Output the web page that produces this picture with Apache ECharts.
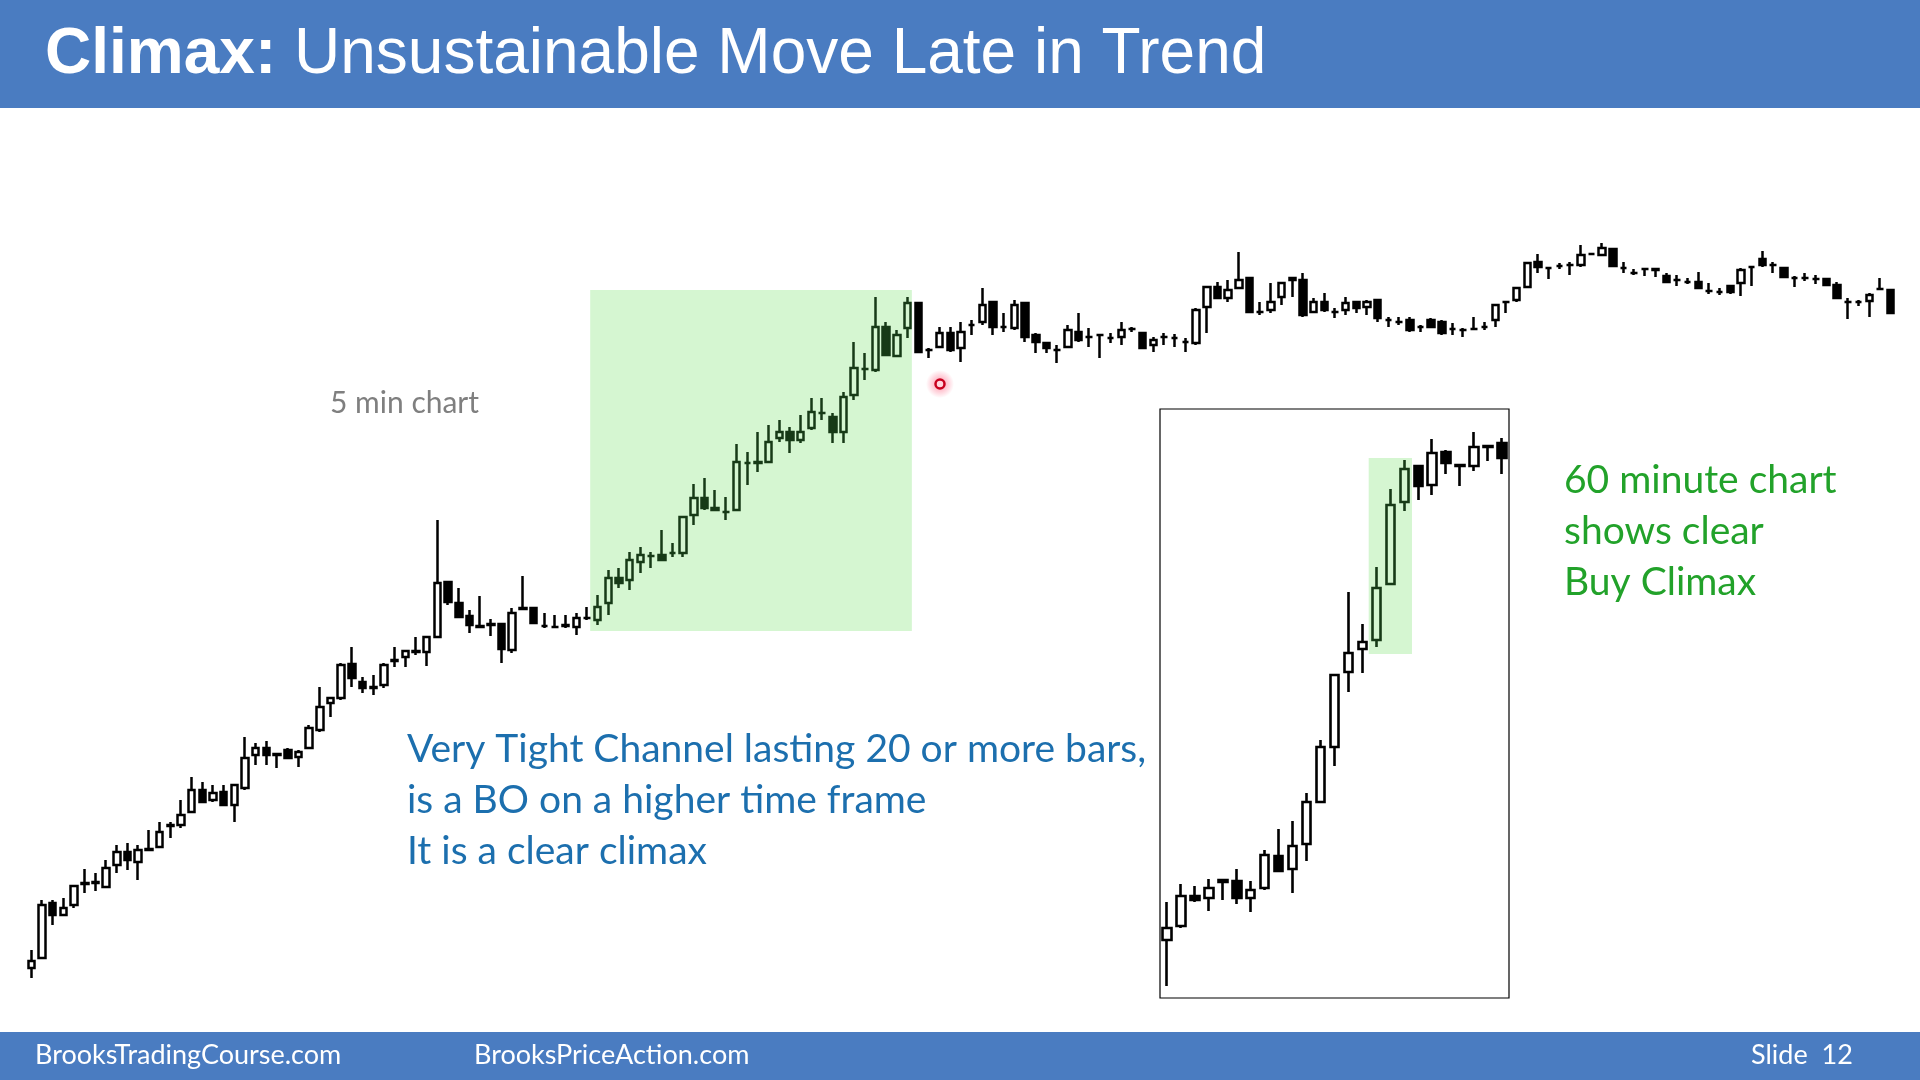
<!DOCTYPE html>
<html>
<head>
<meta charset="utf-8">
<title>Climax: Unsustainable Move Late in Trend</title>
<script src="https://cdn.jsdelivr.net/npm/echarts@6/dist/echarts.min.js"></script>
<style>
  html, body { margin: 0; padding: 0; background: #fff; }
  #chart { width: 1920px; height: 1080px; }
</style>
</head>
<body>
<div id="chart"></div>
<script>
// 5 min bars, [open, close, low, high] (price units)
const bars5 = [
  [32, 39, 22, 50], [42, 95, 42, 100], [97, 85, 75, 100], [85, 92, 85, 102], [95, 114, 92, 115],
  [116, 117, 107, 131], [117, 118, 109, 127], [113, 132, 112, 140], [135, 148, 127, 155], [148, 140, 130, 157],
  [138, 150, 120, 155], [150, 151, 150, 170], [153, 168, 153, 178], [174, 175, 162, 178], [175, 185, 172, 200],
  [188, 210, 188, 223], [210, 198, 198, 218], [200, 207, 198, 215], [208, 195, 195, 215], [195, 215, 178, 215],
  [212, 242, 210, 263], [245, 252, 235, 257], [252, 245, 235, 259], [245, 246, 232, 247], [250, 242, 242, 252],
  [243, 248, 233, 250], [252, 272, 252, 275], [270, 293, 268, 313], [297, 302, 283, 302], [302, 335, 300, 337],
  [336, 322, 313, 353], [318, 312, 307, 323], [312, 313, 305, 325], [315, 335, 312, 337], [339, 340, 333, 353],
  [343, 349, 333, 349], [348, 349, 345, 363], [348, 363, 334, 364], [363, 417, 363, 480], [418, 398, 395, 418],
  [397, 383, 383, 412], [384, 375, 367, 390], [374, 373, 373, 404], [375, 376, 364, 381], [376, 351, 337, 376],
  [350, 387, 347, 392], [391, 392, 391, 424], [392, 377, 377, 392], [374, 374, 372, 387], [373, 373, 372, 385],
  [374, 375, 372, 385], [373, 382, 365, 387], [382, 382, 380, 393], [380, 393, 375, 405], [397, 422, 385, 430],
  [422, 417, 412, 432], [420, 440, 410, 448], [438, 445, 427, 453], [444, 444, 432, 448], [445, 440, 440, 470],
  [447, 447, 443, 457], [447, 483, 443, 483], [485, 502, 475, 516], [502, 492, 490, 522], [492, 490, 490, 510],
  [488, 488, 480, 503], [490, 538, 490, 556], [537, 537, 515, 548], [537, 538, 528, 568], [538, 558, 538, 575],
  [562, 568, 558, 580], [568, 560, 547, 573], [560, 568, 557, 585], [572, 588, 570, 602], [587, 587, 580, 602],
  [583, 568, 557, 587], [568, 603, 557, 608], [605, 632, 600, 658], [631, 631, 620, 647], [630, 673, 628, 703],
  [673, 645, 644, 678], [644, 665, 644, 670], [672, 697, 662, 703], [697, 648, 648, 697], [650, 650, 642, 652],
  [653, 667, 652, 673], [667, 650, 648, 673], [652, 668, 638, 678], [675, 675, 665, 680], [678, 695, 675, 712],
  [698, 673, 665, 698], [673, 673, 668, 687], [672, 695, 670, 700], [697, 663, 658, 697], [665, 658, 647, 667],
  [657, 652, 647, 658], [650, 650, 637, 655], [653, 670, 653, 675], [668, 660, 658, 687], [663, 663, 653, 672],
  [665, 665, 642, 665], [662, 662, 657, 667], [663, 670, 655, 678], [671, 671, 668, 673], [667, 652, 652, 668],
  [655, 660, 648, 663], [663, 663, 655, 667], [662, 662, 653, 666], [658, 658, 648, 662], [657, 690, 655, 692],
  [693, 713, 667, 713], [713, 702, 702, 718], [702, 710, 698, 720], [712, 720, 712, 748], [722, 688, 688, 722],
  [688, 688, 685, 698], [690, 698, 687, 717], [703, 717, 695, 717], [720, 722, 703, 722], [720, 685, 683, 727],
  [688, 698, 688, 702], [698, 690, 688, 707], [688, 688, 682, 692], [690, 697, 685, 703], [698, 692, 687, 698],
  [693, 698, 685, 700], [700, 682, 678, 700], [680, 680, 673, 683], [678, 678, 675, 683], [680, 670, 668, 683],
  [673, 673, 668, 675], [680, 673, 672, 682], [678, 667, 665, 680], [671, 671, 665, 677], [670, 670, 663, 672],
  [671, 671, 670, 683], [673, 673, 670, 678], [680, 695, 673, 695], [698, 698, 687, 698], [700, 712, 698, 713],
  [713, 737, 712, 737], [738, 733, 727, 746], [732, 732, 721, 732], [734, 734, 731, 737], [735, 735, 725, 738],
  [735, 745, 733, 755], [746, 746, 745, 746], [745, 752, 744, 757], [751, 734, 733, 751], [732, 732, 727, 738],
  [727, 727, 725, 731], [731, 731, 724, 731], [731, 730, 723, 731], [724, 718, 717, 727], [720, 720, 714, 725],
  [718, 718, 716, 722], [718, 712, 711, 728], [709, 709, 706, 717], [708, 708, 705, 712], [714, 708, 706, 714],
  [717, 730, 704, 732], [733, 733, 714, 734], [741, 735, 733, 749], [735, 735, 727, 738], [732, 723, 723, 733],
  [722, 722, 713, 724], [722, 722, 719, 727], [721, 721, 716, 725], [721, 715, 714, 722], [715, 702, 701, 718],
  [698, 698, 681, 702], [698, 698, 694, 700], [699, 705, 683, 707], [711, 711, 710, 722], [710, 687, 687, 710]
];

// 60 minute bars, [open, close, low, high]
const bars60 = [
  [58, 70, 12, 96], [72, 102, 70, 114], [102, 98, 96, 112], [100, 110, 87, 119], [116, 118, 98, 119],
  [117, 100, 94, 129], [100, 108, 86, 117], [110, 143, 108, 148], [142, 127, 126, 169], [129, 152, 105, 177],
  [154, 196, 137, 205], [196, 251, 196, 258], [251, 323, 232, 323], [326, 345, 306, 406], [349, 356, 325, 374],
  [358, 410, 351, 431], [414, 493, 413, 509], [496, 529, 487, 538], [532, 512, 498, 532], [513, 545, 503, 559],
  [546, 535, 524, 548], [533, 532, 512, 533], [532, 551, 527, 566], [551, 552, 537, 552], [555, 540, 524, 560]
];

// climax zones: [first bar, last bar] and [low, high] price
const climax5Bars = [53, 82];
const climax5Range = [369, 710];
const climax60Bars = [15, 17];
const climax60Range = [344, 540];

const cats5 = bars5.map((_, i) => String(i + 1));
const cats60 = bars60.map((_, i) => String(i + 1));

const BLACK = '#000';
const DARK_GREEN = '#173a17';
const ZONE_GREEN = '#d5f6d1';
const SLIDE_BLUE = '#4a7cc1';

// split bars into the ones inside / outside a zone ('-' leaves a gap)
function pick(bars, zone, inside) {
  return bars.map((v, i) => ((i >= zone[0] && i <= zone[1]) === inside ? v : '-'));
}

function candleSeries(name, xIdx, yIdx, data, color, width, lw) {
  return {
    name, type: 'candlestick', xAxisIndex: xIdx, yAxisIndex: yIdx, z: 3,
    barWidth: width,
    itemStyle: {
      color: 'rgba(0,0,0,0)', color0: color,
      borderColor: color, borderColor0: color, borderColorDoji: color,
      borderWidth: lw
    },
    data
  };
}

const chart = echarts.init(document.getElementById('chart'), null, { renderer: 'canvas' });

const option = {
  backgroundColor: '#fff',
  animation: false,
  grid: [
    { left: 26, top: 200, width: 1870, height: 800 },
    { left: 1160, top: 409, width: 349, height: 589, show: true, borderColor: '#000', borderWidth: 1.2, backgroundColor: 'transparent' }
  ],
  xAxis: [
    { type: 'category', data: cats5, gridIndex: 0, boundaryGap: true, show: false },
    { type: 'value', gridIndex: 0, min: -0.5, max: bars5.length - 0.5, show: false },
    { type: 'category', data: cats60, gridIndex: 1, boundaryGap: true, show: false },
    { type: 'value', gridIndex: 1, min: -0.5, max: bars60.length - 0.5, show: false }
  ],
  yAxis: [
    { type: 'value', gridIndex: 0, min: 0, max: 800, show: false, splitLine: { show: false } },
    { type: 'value', gridIndex: 1, min: 0, max: 589, show: false, splitLine: { show: false } }
  ],
  series: [
    {
      name: 'zone5', type: 'line', xAxisIndex: 1, yAxisIndex: 0, data: [], silent: true, z: 1,
      markArea: {
        silent: true,
        itemStyle: { color: ZONE_GREEN },
        data: [[
          { xAxis: climax5Bars[0] - 0.7, yAxis: climax5Range[0] },
          { xAxis: climax5Bars[1] + 0.4, yAxis: climax5Range[1] }
        ]]
      }
    },
    candleSeries('5 min', 0, 0, pick(bars5, climax5Bars, false), BLACK, 7, 2.5),
    candleSeries('5 min climax', 0, 0, pick(bars5, climax5Bars, true), DARK_GREEN, 7, 2.5),
    {
      name: 'zone60', type: 'line', xAxisIndex: 3, yAxisIndex: 1, data: [], silent: true, z: 1,
      markArea: {
        silent: true,
        itemStyle: { color: ZONE_GREEN },
        data: [[
          { xAxis: climax60Bars[0] - 0.55, yAxis: climax60Range[0] },
          { xAxis: climax60Bars[1] + 0.55, yAxis: climax60Range[1] }
        ]]
      }
    },
    candleSeries('60 min', 2, 1, pick(bars60, climax60Bars, false), BLACK, 9, 2.6),
    candleSeries('60 min climax', 2, 1, pick(bars60, climax60Bars, true), DARK_GREEN, 9, 2.6)
  ],
  graphic: [
    { type: 'rect', shape: { x: 0, y: 0, width: 1920, height: 108 }, style: { fill: SLIDE_BLUE }, z: 0 },
    {
      type: 'text', x: 45, y: 55, z: 10,
      style: {
        text: '{b|Climax:} Unsustainable Move Late in Trend',
        fill: '#fff', font: '64px "Liberation Sans", Arial, sans-serif', verticalAlign: 'middle',
        rich: { b: { fontWeight: 'bold', fontSize: 64, fontFamily: 'Liberation Sans', fill: '#fff' } }
      }
    },
    { type: 'rect', shape: { x: 0, y: 1032, width: 1920, height: 48 }, style: { fill: SLIDE_BLUE }, z: 0 },
    { type: 'text', x: 35, y: 1055, z: 10, style: { text: 'BrooksTradingCourse.com', fill: '#fff', font: '27px Lato', verticalAlign: 'middle' } },
    { type: 'text', x: 474, y: 1055, z: 10, style: { text: 'BrooksPriceAction.com', fill: '#fff', font: '27px Lato', verticalAlign: 'middle' } },
    { type: 'text', x: 1751, y: 1055, z: 10, style: { text: 'Slide  12', fill: '#fff', font: '27px Lato', verticalAlign: 'middle' } },
    { type: 'text', x: 330, y: 403, z: 10, style: { text: '5 min chart', fill: '#7f7f7f', font: '30px Lato', verticalAlign: 'middle' } },
    {
      type: 'text', x: 407, y: 800, z: 10,
      style: {
        text: 'Very Tight Channel lasting 20 or more bars,\nis a BO on a higher time frame\nIt is a clear climax',
        fill: '#1c6fae', font: '39px Lato', lineHeight: 51, verticalAlign: 'middle'
      }
    },
    {
      type: 'text', x: 1564, y: 531, z: 10,
      style: {
        text: '60 minute chart\nshows clear\nBuy Climax',
        fill: '#22a22a', font: '39px Lato', lineHeight: 51, verticalAlign: 'middle'
      }
    },
    {
      type: 'circle', shape: { cx: 940, cy: 384, r: 14 }, z: 11, silent: true,
      style: {
        fill: new echarts.graphic.RadialGradient(0.5, 0.5, 0.5, [
          { offset: 0, color: 'rgba(255,60,100,0.55)' },
          { offset: 1, color: 'rgba(255,60,100,0)' }
        ])
      }
    },
    { type: 'circle', shape: { cx: 940, cy: 384, r: 4.5 }, z: 12, silent: true, style: { fill: '#ffd6de', stroke: '#c8001e', lineWidth: 2.5 } }
  ]
};

chart.setOption(option);
</script>
</body>
</html>
